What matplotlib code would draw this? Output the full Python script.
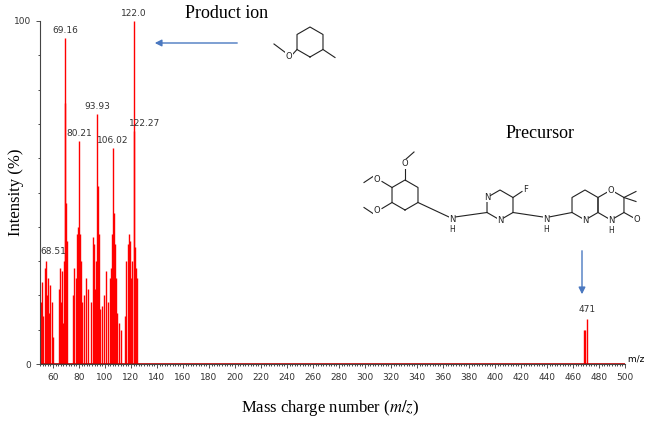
import numpy as np
import matplotlib.pyplot as plt

plt.rcParams["mathtext.fontset"] = "stix"

# peaks (m/z, relative intensity %)
mz = [50.5, 51.5, 52.5, 53.5, 54.3, 55.2, 56.0, 57.0, 58.0, 59.0, 60.0,
      64.5, 65.5, 66.3, 67.2, 68.0, 68.51, 69.16, 69.6, 70.2, 71.0,
      75.5, 76.5, 77.5, 78.3, 79.2, 80.21, 80.8, 81.5, 82.5, 84.0, 85.5, 87.0,
      89.5, 90.5, 91.5, 92.5, 93.2, 93.93, 94.6, 95.5, 96.5, 98.0, 99.5,
      101.0, 102.0, 103.5, 104.5, 105.3, 106.02, 106.8, 107.5, 108.5, 109.5, 110.5, 112.0,
      115.5, 116.5, 117.5, 118.5, 119.3, 120.2, 121.0, 122.0, 122.27, 122.8, 123.5, 124.5,
      468.5, 469.3, 471.0]
inten = [18, 24, 14, 28, 30, 20, 25, 15, 23, 18, 8,
         22, 28, 18, 27, 12, 30, 95, 76, 47, 36,
         20, 28, 25, 38, 40, 65, 38, 30, 18, 20, 25, 22,
         18, 37, 35, 22, 30, 73, 52, 38, 16, 17, 20,
         27, 18, 25, 28, 38, 63, 44, 35, 25, 15, 12, 10,
         14, 30, 35, 38, 36, 25, 30, 100, 68, 34, 28, 25,
         10, 10, 13]
labels = {69.16: "69.16", 122.0: "122.0", 122.27: "122.27", 93.93: "93.93",
          80.21: "80.21", 106.02: "106.02", 68.51: "68.51", 471.0: "471"}

serif = "Liberation Serif"

fig = plt.figure(figsize=(6.56, 4.25), dpi=100)
ax = fig.add_axes([40 / 656, 1 - 364 / 425, 585 / 656, 343 / 425])
ax.vlines(mz, 0, inten, color="#ff0000", linewidth=1.0)
ax.axhline(0, color="#c00000", linewidth=1.2)
ax.set_xlim(50, 500)
ax.set_ylim(0, 100)
ax.set_xticks(np.arange(60, 501, 20))
ax.set_xticks(np.arange(50, 501, 2), minor=True)
ax.set_yticks([0, 100])
ax.set_yticks(np.arange(0, 101, 10), minor=True)
ax.tick_params(labelsize=6.5, colors="#333333", length=3, width=0.6)
ax.tick_params(which="minor", length=1.5, width=0.5)
for s in ("top", "right"):
    ax.spines[s].set_visible(False)
for s in ("left", "bottom"):
    ax.spines[s].set_color("#444444")
    ax.spines[s].set_linewidth(0.8)
ax.text(1.0, 0.0, " m/z", transform=ax.transAxes, fontsize=6.5, va="bottom", ha="left")

offsets = {69.16: (0, 2), 122.0: (0, 2), 122.27: (8, 2), 93.93: (0, 2),
           80.21: (0, 2), 106.02: (0, 2), 68.51: (-8, 4), 471.0: (0, 4)}
for m, i in zip(mz, inten):
    if m in labels:
        dx, dy = offsets[m]
        ax.annotate(labels[m], (m, i), xytext=(dx, dy), textcoords="offset points",
                    ha="center", va="bottom", fontsize=6.5, color="#333333")

fig.text(16 / 656, 1 - 192 / 425, "Intensity (%)", fontsize=12, family=serif,
         rotation=90, ha="center", va="center")
fig.text(330 / 656, 1 - 408 / 425, "Mass charge number ($\\it{m/z}$)", fontsize=12,
         family=serif, ha="center", va="center")

# overlay in pixel coordinates for structures and annotations
ov = fig.add_axes([0, 0, 1, 1], facecolor="none")
ov.set_xlim(0, 656)
ov.set_ylim(425, 0)
ov.axis("off")

ov.text(227, 18, "Product ion", fontsize=13, family=serif, ha="center")
ov.text(540, 138, "Precursor", fontsize=13, family=serif, ha="center")
ov.annotate("", xy=(152, 43), xytext=(240, 43),
            arrowprops=dict(arrowstyle="-|>", color="#4a78c0", lw=1))
ov.annotate("", xy=(582, 297), xytext=(582, 248),
            arrowprops=dict(arrowstyle="-|>", color="#4a78c0", lw=1))


# vertex order (y down): 0 bottom, 1 lower-left, 2 upper-left, 3 top, 4 upper-right, 5 lower-right
def hexagon(cx, cy, r):
    ang = np.radians(90 + np.arange(7) * 60)
    xs, ys = cx + r * np.cos(ang), cy + r * np.sin(ang)
    ov.plot(xs, ys, color="#222222", lw=0.8)
    return xs, ys


def line(x0, y0, x1, y1):
    ov.plot([x0, x1], [y0, y1], color="#222222", lw=0.8)


def label(x, y, t):
    ov.text(x, y, t, fontsize=6, ha="center", va="center", color="#222222",
            bbox=dict(fc="white", ec="none", pad=0.2))


def nh(x, y):
    label(x, y, "N")
    ov.text(x, y + 10, "H", fontsize=5.5, ha="center", va="center", color="#222222")


# product ion: 3-methylanisole fragment
xs, ys = hexagon(310, 42, 15)
line(xs[1], ys[1], 292, 55)
label(289, 56, "O")
line(286, 53, 274, 44)
line(xs[5], ys[5], xs[5] + 12, ys[5] + 8)

# precursor
r = 15
xs, ys = hexagon(405, 195, r)
line(xs[3], ys[3], xs[3], ys[3] - 12); label(xs[3], ys[3] - 16, "O"); line(xs[3], ys[3] - 20, xs[3] + 9, ys[3] - 28)
line(xs[2], ys[2], xs[2] - 10, ys[2] - 6); label(xs[2] - 15, ys[2] - 8, "O"); line(xs[2] - 19, ys[2] - 11, xs[2] - 28, ys[2] - 5)
line(xs[1], ys[1], xs[1] - 10, ys[1] + 6); label(xs[1] - 15, ys[1] + 8, "O"); line(xs[1] - 19, ys[1] + 11, xs[1] - 28, ys[1] + 5)
nx1, ny1 = 452, 219
line(xs[5], ys[5], nx1 - 3, ny1 - 2); nh(nx1, ny1)
xs2, ys2 = hexagon(500, 205, r)
line(nx1 + 3, ny1 - 2, xs2[1], ys2[1])
label(xs2[0], ys2[0], "N"); label(xs2[2], ys2[2], "N")
line(xs2[4], ys2[4], xs2[4] + 9, ys2[4] - 6); label(xs2[4] + 13, ys2[4] - 8, "F")
nx2, ny2 = 546, 219
line(xs2[5], ys2[5], nx2 - 3, ny2 - 2); nh(nx2, ny2)
xs3, ys3 = hexagon(585, 205, r)
line(nx2 + 3, ny2 - 2, xs3[1], ys3[1])
label(xs3[0], ys3[0], "N")
xs4, ys4 = hexagon(585 + r * np.sqrt(3), 205, r)
label(xs4[3], ys4[3], "O"); nh(xs4[0], ys4[0])
line(xs4[4], ys4[4], xs4[4] + 12, ys4[4] - 6); line(xs4[4], ys4[4], xs4[4] + 12, ys4[4] + 4)
line(xs4[5], ys4[5], xs4[5] + 9, ys4[5] + 5); label(xs4[5] + 13, ys4[5] + 7, "O")

fig.savefig("out.png", dpi=100, facecolor="white")
